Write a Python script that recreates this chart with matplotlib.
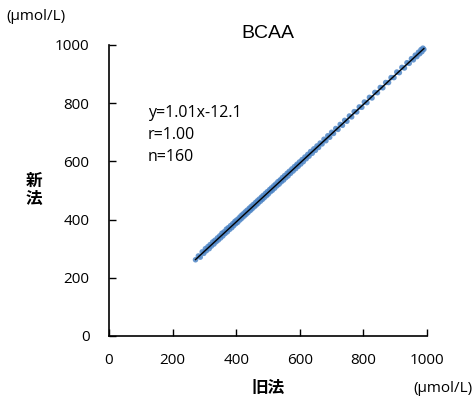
import numpy as np
import matplotlib.pyplot as plt

# old method (x) vs new method (y), umol/L
old_method = [272, 281, 287, 293, 298, 303, 306, 311, 315, 318, 322, 326, 330, 333, 337,
              341, 344, 348, 351, 355, 358, 362, 365, 369, 372, 375, 379, 382, 386, 389,
              392, 396, 399, 402, 405, 409, 412, 415, 418, 421, 425, 428, 431, 434, 437,
              441, 444, 447, 450, 453, 457, 460, 463, 466, 469, 472, 476, 479, 482, 485,
              488, 492, 495, 498, 501, 505, 508, 511, 514, 518, 521, 524, 528, 531, 535,
              538, 542, 545, 549, 552, 556, 560, 563, 567, 571, 575, 579, 583, 587, 591,
              595, 599, 603, 607, 611, 616, 620, 625, 629, 634, 639, 644, 649, 654, 659,
              664, 670, 676, 682, 688, 694, 700, 706, 713, 720, 727, 734, 741, 748, 756,
              763, 771, 779, 787, 795, 803, 811, 819, 827, 836, 844, 853, 861, 870, 879,
              887, 896, 905, 913, 921, 929, 937, 944, 951, 957, 963, 968, 973, 977, 981,
              984, 987, 990, 395, 445, 480, 510, 540, 565, 590]
new_method = [262, 275, 271, 289, 284, 300, 293, 307, 300, 314, 309, 323, 316, 329, 324,
              337, 330, 344, 337, 353, 344, 358, 352, 367, 358, 372, 366, 379, 372, 386,
              379, 394, 386, 399, 391, 406, 399, 413, 405, 419, 412, 426, 418, 432, 424,
              439, 431, 445, 437, 451, 444, 458, 450, 464, 456, 470, 463, 477, 469, 483,
              475, 490, 482, 496, 488, 503, 496, 509, 501, 516, 508, 522, 516, 530, 522,
              536, 530, 544, 536, 551, 544, 559, 550, 566, 559, 574, 567, 582, 575, 590,
              583, 598, 591, 606, 599, 615, 609, 624, 618, 634, 628, 643, 638, 653, 648,
              663, 660, 676, 671, 688, 683, 700, 696, 713, 710, 727, 724, 741, 738, 756,
              753, 771, 770, 787, 786, 804, 802, 820, 818, 837, 836, 854, 853, 871, 871,
              888, 888, 907, 905, 923, 921, 939, 937, 953, 949, 965, 960, 975, 970, 984,
              977, 989, 985, 389, 437, 473, 502, 535, 559, 585]

x_ticks = [0, 200, 400, 600, 800, 1000]
y_ticks = [0, 200, 400, 600, 800, 1000]

num_font = 'Open Sans'
cjk_font = ['Noto Sans CJK JP', 'DejaVu Sans']

x = np.array(old_method, dtype=float)
y = np.array(new_method, dtype=float)
slope, intercept = np.polyfit(x, y, 1)

fig = plt.figure(figsize=(4.75, 4.09), dpi=100)
ax = fig.add_axes([0.2295, 0.1785, 0.6695, 0.7115])

ax.scatter(x, y, s=16, color='#4F86C6', alpha=0.85, edgecolors='none', zorder=2)
xs = np.array([x.min(), x.max()])
ax.plot(xs, slope * xs + intercept, color='black', lw=1.0, zorder=3)

ax.set_xlim(0, 1000)
ax.set_ylim(0, 1000)
ax.set_xticks(x_ticks)
ax.set_yticks(y_ticks)
ax.tick_params(direction='in', length=5, width=1, labelsize=11)
ax.tick_params(axis='x', pad=12)
ax.tick_params(axis='y', pad=14)
for lab in ax.get_xticklabels() + ax.get_yticklabels():
    lab.set_family(num_font)
ax.spines['top'].set_visible(False)
ax.spines['right'].set_visible(False)
for s in ['left', 'bottom']:
    ax.spines[s].set_linewidth(1.2)

ax.set_title('BCAA', family='Liberation Sans', fontsize=14, pad=5)

ax.text(0.122, 0.795, 'y=1.01x-12.1\nr=1.00\nn=160', transform=ax.transAxes,
        family=num_font, fontsize=11.5, va='top', ha='left', linespacing=1.5)

fig.text(268 / 475, 1 - 388 / 409, '旧法', family=cjk_font, fontsize=12,
         fontweight='bold', ha='center', va='center')
fig.text(34 / 475, 1 - 190 / 409, '新\n法', family=cjk_font, fontsize=12,
         fontweight='bold', ha='center', va='center', linespacing=1.05)
fig.text(6 / 475, 1 - 16 / 409, '(μmol/L)', family=num_font, fontsize=11,
         ha='left', va='center')
fig.text(472 / 475, 1 - 388 / 409, '(μmol/L)', family=num_font, fontsize=11,
         ha='right', va='center')

fig.savefig('out.png', dpi=100)
